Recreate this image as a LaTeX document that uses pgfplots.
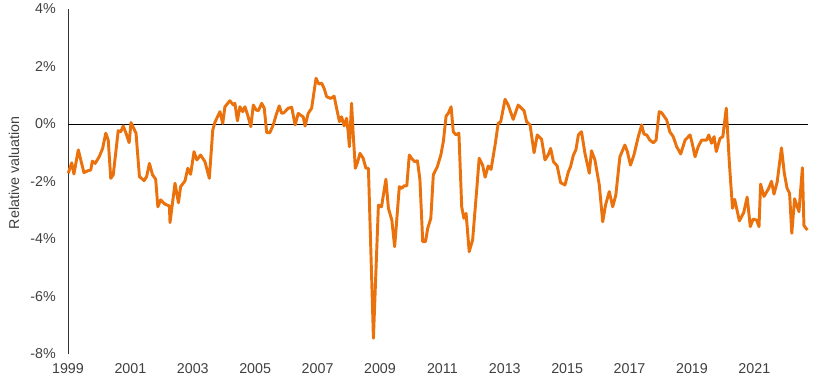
\documentclass[border=0pt]{standalone}
\usepackage{pgfplots}
\pgfplotsset{compat=1.18}
\usepackage{fontspec}
\setmainfont{Liberation Sans}
\usetikzlibrary{calc}
\definecolor{lineorange}{RGB}{234,113,12}
\definecolor{txtgray}{RGB}{64,64,64}
\begin{document}
\begin{tikzpicture}
\begin{axis}[
  scale only axis,
  width=555pt, height=258.75pt,
  xmin=1999, xmax=2022.72,
  ymin=-8, ymax=4,
  axis lines*=left,
  x axis line style={draw=none},
  y axis line style={draw=black!80, line width=0.6pt, -},
  major tick length=0pt,
  xtick={1999,2001,2003,2005,2007,2009,2011,2013,2015,2017,2019,2021},
  xticklabels={1999,2001,2003,2005,2007,2009,2011,2013,2015,2017,2019,2021},
  ytick={-8,-6,-4,-2,0,2,4},
  yticklabels={-8\%,-6\%,-4\%,-2\%,0\%,2\%,4\%},
  tick label style={font=\fontsize{10.7}{12}\selectfont, text=txtgray, inner sep=0pt},
  xticklabel style={anchor=north, yshift=-6.75pt},
  yticklabel style={anchor=east, xshift=-9pt},
  clip=false,
]
\addplot[black, line width=0.6pt] coordinates {(1999,0) (2022.72,0)};
\addplot[lineorange, line width=2.2pt, line join=round] coordinates {
(1999.01,-1.71)(1999.12,-1.35)(1999.19,-1.74)(1999.33,-0.90)(1999.51,-1.69)
(1999.65,-1.62)(1999.73,-1.60)(1999.78,-1.29)(1999.87,-1.37)(2000.00,-1.14)
(2000.11,-0.85)(2000.21,-0.32)(2000.29,-0.56)(2000.37,-1.89)(2000.45,-1.77)
(2000.61,-0.23)(2000.69,-0.27)(2000.77,-0.07)(2000.86,-0.32)(2000.96,-0.65)
(2001.02,0.05)(2001.18,-0.32)(2001.29,-1.83)(2001.44,-1.97)(2001.52,-1.83)
(2001.61,-1.37)(2001.71,-1.77)(2001.81,-1.92)(2001.88,-2.88)(2001.97,-2.64)
(2002.11,-2.79)(2002.25,-2.85)(2002.27,-3.43)(2002.43,-2.06)(2002.54,-2.74)
(2002.61,-2.18)(2002.75,-1.98)(2002.84,-1.54)(2002.93,-1.75)(2003.04,-0.96)
(2003.13,-1.25)(2003.25,-1.08)(2003.39,-1.31)(2003.53,-1.89)(2003.64,-0.21)
(2003.71,0.06)(2003.87,0.43)(2003.96,0.02)(2004.03,0.60)(2004.19,0.81)
(2004.30,0.66)(2004.35,0.72)(2004.43,0.11)(2004.51,0.60)(2004.60,0.43)
(2004.67,0.60)(2004.76,0.31)(2004.86,-0.09)(2004.94,0.66)(2005.03,0.49)
(2005.10,0.46)(2005.21,0.72)(2005.29,0.55)(2005.37,-0.30)(2005.47,-0.30)
(2005.58,-0.03)(2005.67,0.31)(2005.77,0.63)(2005.85,0.37)(2005.92,0.39)
(2006.06,0.55)(2006.17,0.58)(2006.28,-0.03)(2006.38,0.37)(2006.49,0.28)
(2006.54,0.25)(2006.60,-0.07)(2006.70,0.37)(2006.81,0.55)(2006.95,1.59)
(2007.04,1.39)(2007.13,1.42)(2007.21,1.24)(2007.29,0.95)(2007.42,0.89)
(2007.53,0.97)(2007.61,0.55)(2007.70,0.08)(2007.77,0.25)(2007.85,-0.07)
(2007.93,0.20)(2007.98,-0.27)(2008.02,-0.79)(2008.09,0.72)(2008.14,-0.32)
(2008.21,-1.54)(2008.27,-1.37)(2008.36,-1.02)(2008.46,-1.19)(2008.55,-1.54)
(2008.63,-1.54)(2008.79,-7.45)(2008.95,-2.82)(2009.05,-2.88)(2009.19,-1.92)
(2009.27,-2.93)(2009.38,-3.34)(2009.47,-4.27)(2009.53,-3.45)(2009.62,-2.18)
(2009.70,-2.24)(2009.77,-2.15)(2009.86,-2.15)(2009.94,-1.08)(2010.04,-1.23)
(2010.12,-1.31)(2010.20,-1.28)(2010.28,-1.92)(2010.37,-4.09)(2010.46,-4.09)
(2010.53,-3.63)(2010.63,-3.28)(2010.71,-1.77)(2010.84,-1.48)(2010.95,-1.08)
(2011.03,-0.62)(2011.12,0.28)(2011.19,0.37)(2011.28,0.60)(2011.35,-0.27)
(2011.44,-0.38)(2011.53,-0.32)(2011.62,-2.88)(2011.69,-3.28)(2011.76,-3.11)
(2011.86,-4.44)(2011.97,-4.03)(2012.10,-2.30)(2012.18,-1.19)(2012.29,-1.43)
(2012.37,-1.85)(2012.47,-1.46)(2012.56,-1.58)(2012.69,-0.73)(2012.79,0.02)
(2012.87,0.08)(2013.01,0.86)(2013.11,0.66)(2013.27,0.16)(2013.43,0.66)
(2013.62,0.46)(2013.70,0.08)(2013.81,-0.03)(2013.94,-1.00)(2014.04,-0.38)
(2014.18,-0.53)(2014.29,-1.25)(2014.39,-1.08)(2014.47,-0.85)(2014.56,-1.31)
(2014.68,-1.46)(2014.79,-2.04)(2014.93,-2.12)(2015.04,-1.66)(2015.11,-1.48)
(2015.20,-1.08)(2015.28,-0.90)(2015.36,-0.38)(2015.46,-0.27)(2015.57,-1.02)
(2015.71,-1.71)(2015.78,-0.93)(2015.89,-1.25)(2016.03,-2.12)(2016.14,-3.40)
(2016.23,-2.82)(2016.35,-2.35)(2016.46,-2.88)(2016.56,-2.47)(2016.69,-1.14)
(2016.85,-0.73)(2016.93,-0.96)(2017.03,-1.43)(2017.14,-1.08)(2017.28,-0.44)
(2017.39,-0.03)(2017.46,-0.35)(2017.55,-0.38)(2017.65,-0.56)(2017.76,-0.65)
(2017.85,-0.56)(2017.95,0.43)(2018.03,0.39)(2018.19,0.14)(2018.29,-0.27)
(2018.40,-0.44)(2018.51,-0.79)(2018.64,-1.04)(2018.78,-0.56)(2018.94,-0.38)
(2019.02,-0.73)(2019.10,-1.14)(2019.20,-0.79)(2019.31,-0.56)(2019.47,-0.56)
(2019.54,-0.38)(2019.63,-0.67)(2019.71,-0.44)(2019.78,-0.96)(2019.90,-0.50)
(2019.99,-0.44)(2020.10,0.55)(2020.20,-1.37)(2020.30,-2.93)(2020.37,-2.62)
(2020.52,-3.37)(2020.66,-3.08)(2020.77,-2.54)(2020.87,-3.57)(2020.96,-3.31)
(2021.07,-3.34)(2021.15,-3.57)(2021.20,-2.09)(2021.31,-2.52)(2021.45,-2.26)
(2021.55,-1.99)(2021.63,-2.44)(2021.73,-2.03)(2021.87,-0.83)(2021.96,-1.71)
(2022.05,-2.24)(2022.13,-2.41)(2022.20,-3.80)(2022.29,-2.60)(2022.43,-3.05)
(2022.54,-1.52)(2022.59,-3.53)(2022.70,-3.69)
};
\end{axis}
\node[rotate=90, font=\fontsize{10.7}{12}\selectfont, text=txtgray, inner sep=0pt]
  at ($(current axis.south west)!0.525!(current axis.north west)+(-40.5pt,0)$) {Relative valuation};
\pgfresetboundingbox
\path ($(current axis.south west)+(-51pt,-26.25pt)$) rectangle ($(current axis.north east)+(6.75pt,6.75pt)$);
\end{tikzpicture}
\end{document}
